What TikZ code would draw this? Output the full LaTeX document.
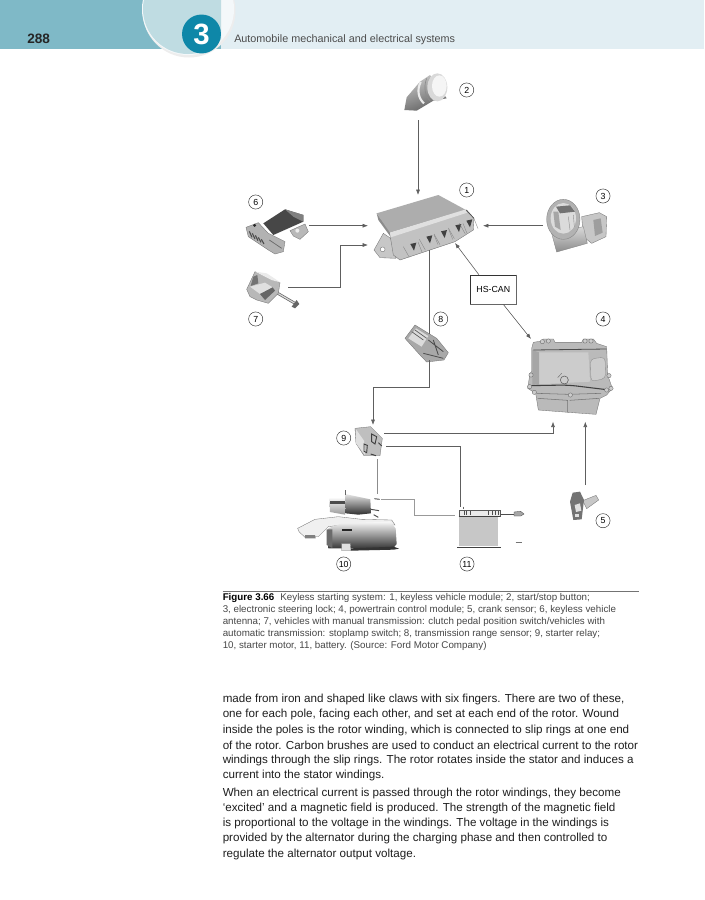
\documentclass[tikz,border=0pt]{standalone}
\usepackage{fontspec}
\setmainfont{Liberation Sans}
\usepackage{tikz}
\usetikzlibrary{positioning,arrows.meta,fit,backgrounds}
\definecolor{bandDark}{HTML}{7FB9C7}
\definecolor{bandLight}{HTML}{E2EEF3}
\definecolor{ovalFill}{HTML}{BFDCE2}
\definecolor{badgeTeal}{HTML}{0E87A8}
\definecolor{wireGrey}{HTML}{5E5E5E}
\tikzset{
  wire/.style={draw=wireGrey,line width=0.45pt},
  wireA/.style={wire,-{Latex[length=4pt,width=3pt]}},
  numring/.style={draw=black!80,circle,line width=0.35pt,minimum size=10.6pt,inner sep=0pt,font=\fontsize{6.6}{7}\selectfont},
  capline/.style={anchor=west,inner sep=0pt,text=black!72,font=\fontsize{7.33}{8}\selectfont},
  bodyline/.style={anchor=west,inner sep=0pt,text=black!88,font=\fontsize{8.72}{9}\selectfont},
  inA/.style={shift={(230,70)},x=0.25pt,y=-0.25pt},
  inB/.style={shift={(280,310)},x=0.25pt,y=-0.25pt},
  inMod/.style={shift={(370,190)},x=0.25pt,y=-0.25pt},
  inSw/.style={shift={(240,200)},x=0.25pt,y=-0.25pt},
  inPcm/.style={shift={(525,335)},x=0.25pt,y=-0.25pt},
  inSt/.style={shift={(295,480)},x=0.25pt,y=-0.25pt},
  part/.style={draw=black!55,line width=0.25pt},
}
\begin{document}
\begin{tikzpicture}[x=0.75pt,y=-0.75pt,>=Latex]
  \useasboundingbox[fill=white] (0,0) rectangle (704,900);
  % page header
  \fill[bandDark] (0,0) rectangle (221,48.5);
  \fill[bandLight] (221,0) rectangle (704,48.5);
  \begin{scope}
    \clip (0,0) rectangle (704,60);
    \fill[black!7] (189,11) ellipse (46.5 and 46.5);
    \fill[white!60!bandLight] (188,9) ellipse (46 and 46);
    \clip (0,0) rectangle (221,60);
    \fill[ovalFill] (188,9) ellipse (45 and 45);
  \end{scope}
  \node[circle,fill=badgeTeal,minimum size=29.2pt,inner sep=0pt,text=white,font=\fontsize{22}{22}\selectfont\bfseries] (badge) at (201.5,34) {3};
  \node[anchor=west,inner sep=0pt,font=\fontsize{10.2}{11}\selectfont\bfseries,text=black!85] (pageno) at (27,39) {288};
  \node[anchor=west,inner sep=0pt,font=\fontsize{8.1}{9}\selectfont,text=black!70] (runhead) at (234,40) {Automobile mechanical and electrical systems};

  % 2 start/stop button
  \begin{scope}[inA]
    \shade[top color=black!22,bottom color=black!62,shading angle=20] (523,120) -- (530,82) -- (570,35) -- (600,15) -- (650,85) -- (610,92) -- (560,122) -- cycle;
    \draw[black!8,line width=1.6pt] (572,36) .. controls (560,60) and (565,85) .. (582,100);
    \draw[black!45,line width=0.5pt] (590,25) .. controls (580,50) and (585,80) .. (600,92);
    \fill[black!15] (622,52) ellipse (30 and 42);
    \fill[black!4] (628,48) ellipse (22 and 32);
  \end{scope}

  % 1 keyless vehicle module
  \begin{scope}[inMod]
    \fill[black!45] (20,70) -- (25,90) -- (60,138) -- (60,122) -- cycle;
    \fill[black!22,part] (12,180) -- (40,130) -- (62,145) -- (78,205) -- (30,203) -- cycle;
    \fill[white,draw=black!60,line width=0.25pt] (38,178) circle (1.8pt);
    \fill[black!24,draw=black!55,line width=0.25pt] (60,135) -- (290,60) -- (312,85) -- (310,120) -- (255,155) -- (90,210) -- (70,195) -- cycle;
    \fill[black!32] (20,70) -- (205,15) -- (288,60) -- (60,128) -- cycle;
    \fill[black!12] (60,128) -- (288,58) -- (292,68) -- (62,142) -- cycle;
    \foreach \a/\b in {130/172,178/150,222/134,265/116,298/102} {
      \fill[black!75] (\a-9,\b-10) -- (\a+9,\b-14) -- (\a+2,\b+10) -- cycle;
      \draw[black!50,line width=0.25pt] (\a-30,\b-2) -- (\a-12,\b+30);
      \draw[black!50,line width=0.25pt] (\a+14,\b-16) -- (\a+26,\b+14);
    }
    \draw[black!70,line width=0.5pt] (288,60) -- (312,85);
  \end{scope}

  % 6 keyless vehicle antenna
  \begin{scope}[inSw]
    \fill[black!30,part] (18,82) -- (55,68) -- (85,100) -- (135,125) -- (130,155) -- (105,162) -- (85,150) -- (25,110) -- cycle;
    \fill[black!28,part] (150,92) -- (195,72) -- (205,95) -- (180,118) -- (160,108) -- cycle;
    \fill[black!8] (172,92) circle (1.5pt);
    \fill[black!72] (70,70) -- (135,28) -- (190,45) -- (190,65) -- (100,105) -- cycle;
    \fill[black!50] (135,28) -- (190,45) -- (190,65) -- (160,50) -- cycle;
    \fill[black!85] (44,76) circle (1.2pt);
    \foreach \k in {0,...,4} {
      \draw[black!70,line width=0.8pt] (28+\k*9,94+\k*6) -- (36+\k*9,112+\k*5);
    }
    \draw[black!60,line width=0.5pt] (88,120) -- (125,145);
  \end{scope}

  % 7 clutch pedal / stoplamp switch
  \begin{scope}[inSw]
    \draw[black!60,line width=2pt] (105,275) -- (165,310);
    \draw[black!15,line width=0.9pt] (105,275) -- (165,310);
    \fill[black!60] (155,320) -- (170,300) -- (178,312) -- (165,325) -- cycle;
    \fill[black!28,part] (20,268) -- (45,215) -- (120,248) -- (115,280) -- (85,310) -- (50,300) -- (30,290) -- cycle;
    \fill[black!55] (40,230) -- (52,225) -- (55,250) -- (32,258) -- cycle;
    \fill[black!12] (30,260) -- (75,248) -- (98,262) -- (60,282) -- cycle;
    \fill[black!8] (45,215) -- (80,220) -- (122,248) -- (95,240) -- cycle;
    \fill[black!60] (60,282) -- (98,262) -- (105,272) -- (75,300) -- cycle;
  \end{scope}

  % 3 electronic steering lock
  \begin{scope}[inA]
    \fill[black!22,part] (1055,440) -- (1108,428) -- (1130,440) -- (1128,500) -- (1085,520) -- (1060,500) -- cycle;
    \fill[black!38] (1090,450) -- (1112,445) -- (1118,488) -- (1095,498) -- cycle;
    \shade[top color=black!15,bottom color=black!45,draw=black!50,line width=0.25pt] (965,490) -- (1060,470) -- (1072,520) -- (980,546) -- cycle;
    \fill[black!30,draw=black!50,line width=0.25pt] (1000,448) ellipse (50 and 60);
    \fill[black!14] (1000,445) ellipse (38 and 46);
    \fill[black!55] (978,410) -- (1020,406) -- (1035,425) -- (990,430) -- cycle;
    \fill[black!35] (970,425) -- (985,425) -- (992,480) -- (975,470) -- cycle;
    \draw[black!45,line width=0.3pt] (1015,440) -- (1020,480) (1030,435) -- (1033,470);
  \end{scope}

  % 8 transmission range sensor
  \begin{scope}[inB]
    \fill[black!34,part] (375,85) -- (405,45) -- (470,85) -- (505,128) -- (492,150) -- (440,156) -- (420,135) -- cycle;
    \fill[black!14] (385,85) -- (408,55) -- (445,78) -- (425,110) -- cycle;
    \draw[black!65,line width=0.5pt] (395,65) -- (430,90) (405,60) -- (440,85);
    \draw[black!70,line width=0.6pt] (445,90) -- (490,125) (460,90) -- (475,135) (430,130) -- (490,145);
  \end{scope}

  % 4 powertrain control module
  \begin{scope}[inPcm]
    \fill[black!27,part] (20,40) -- (25,22) -- (50,18) -- (55,12) -- (85,12) -- (90,22) -- (170,22) -- (175,12) -- (205,12) -- (215,25) -- (245,35) -- (248,120) -- (262,160) -- (245,180) -- (225,190) -- (213,238) -- (130,232) -- (40,225) -- (32,175) -- (8,160) -- (15,115) -- (20,110) -- cycle;
    \fill[black!20] (42,52) -- (190,52) -- (195,140) -- (42,148) -- cycle;
    \fill[black!20,draw=black!45,line width=0.25pt,rounded corners=3pt] (196,72) -- (240,66) -- (242,130) -- (198,140) -- cycle;
    \fill[black!35] (22,45) -- (42,52) -- (42,148) -- (22,150) -- cycle;
    \draw[black!70,line width=0.6pt] (25,45) -- (245,42);
    \draw[black!75,line width=0.8pt,rounded corners=6pt] (10,152) -- (130,150) -- (245,164);
    \draw[black!55,line width=0.4pt] (35,175) -- (130,178) -- (228,175);
    \draw[black!55,line width=0.4pt] (38,190) -- (128,196) -- (128,232) (134,196) -- (222,190);
    \draw[black!65,line width=0.4pt] (118,135) circle (3pt);
    \draw[black!55,line width=0.35pt] (98,128) -- (110,115);
    \foreach \a/\b in {52/20,70/18,180/18,198/18,18/120,14/155,28/172,136/180,245/165,258/160,252/122} {
      \draw[black!60,fill=black!20,line width=0.25pt] (\a,\b) circle (1.6pt);
    }
  \end{scope}

  % 5 crank sensor
  \begin{scope}[inB]
    \fill[black!22,part] (908,572) -- (948,556) -- (956,570) -- (920,596) -- cycle;
    \fill[black!55] (878,548) -- (900,545) -- (912,570) -- (905,628) -- (880,630) -- (870,575) -- cycle;
    \fill[black!12] (884,585) -- (900,580) -- (904,602) -- (888,606) -- cycle;
    \fill[black!12] (885,612) -- (897,612) -- (897,622) -- (885,622) -- cycle;
  \end{scope}

  % 9 starter relay
  \begin{scope}[inB]
    \fill[black!25,part] (225,355) -- (272,350) -- (307,385) -- (300,437) -- (252,437) -- (228,400) -- cycle;
    \fill[black!12] (228,358) -- (252,392) -- (255,435) -- (228,400) -- cycle;
    \draw[black!75,line width=0.7pt] (275,372) -- (290,380) -- (285,402) -- (275,395) -- cycle;
    \draw[black!75,line width=0.7pt] (252,402) -- (262,406) -- (260,428) -- (252,424) -- cycle;
    \draw[black!75,line width=0.7pt] (295,398) -- (305,408);
    \draw[black!75,line width=0.7pt] (272,432) -- (288,437);
  \end{scope}

  % 10 starter motor
  \begin{scope}[inSt]
    \fill[black!6,part] (8,145) -- (60,118) -- (130,110) -- (200,118) -- (290,120) -- (300,135) -- (140,135) -- (100,140) -- (70,170) -- (30,172) -- (12,155) -- cycle;
    \fill[black!50] (30,165) -- (60,165) -- (62,175) -- (30,175) -- cycle;
    \shade[top color=black!4,bottom color=black!40] (103,55) -- (150,55) -- (150,104) -- (105,96) -- cycle;
    \fill[black!70] (104,64) -- (150,64) -- (150,72) -- (104,72) -- cycle;
    \shade[top color=black!10,bottom color=black!82] (150,42) -- (226,58) -- (228,100) -- (190,104) -- (152,100) -- cycle;
    \draw[black!60,line width=0.3pt] (150,30) -- (150,45);
    \shade[top color=black!3,bottom color=black!78] (100,145) -- (140,130) -- (285,125) -- (302,145) -- (305,192) -- (295,204) -- (100,205) -- cycle;
    \fill[black!58] (95,148) -- (112,148) -- (112,204) -- (95,195) -- cycle;
    \fill[black!85] (140,148) -- (172,148) -- (172,153) -- (140,153) -- cycle;
    \fill[black!12,part] (140,190) -- (166,190) -- (168,212) -- (140,212) -- cycle;
    \fill[black!80] (168,205) -- (296,200) -- (312,206) -- (296,209) -- (168,212) -- cycle;
    \draw[black!70,line width=0.7pt] (238,56) -- (254,58) (228,88) -- (252,92) (236,104) -- (250,112);
  \end{scope}

  % 11 battery
  \begin{scope}[inB]
    \fill[black!22] (538,622) -- (655,622) -- (655,708) -- (538,708) -- cycle;
    \fill[black!8,draw=black!65,line width=0.3pt] (538,600) -- (662,600) -- (662,618) -- (538,618) -- cycle;
    \draw[black!75,line width=0.5pt] (536,620) -- (660,620) (532,712) -- (662,712);
    \foreach \a in {552,560,570,625,637,645,655} {
      \draw[black!70,line width=0.35pt] (\a,602) -- (\a,616);
    }
    \draw[black!70,line width=0.35pt] (662,612) -- (702,612);
    \fill[black!35,draw=black!70,line width=0.25pt] (702,606) -- (722,604) -- (732,612) -- (722,618) -- (702,618) -- cycle;
    \draw[black!55,line width=0.6pt] (707,698) -- (725,698);
    \draw[black!60,line width=0.3pt] (550,590) -- (550,598);
  \end{scope}

  % wire ends
  \coordinate (startB) at (418,120);
  \coordinate (modT) at (418,195);
  \coordinate (antR) at (309,225.7);
  \coordinate (modL) at (368,225.7);
  \coordinate (swR) at (288,287);
  \coordinate (modLb) at (368,245);
  \coordinate (lockL) at (543,225.7);
  \coordinate (modR) at (483,225.7);
  \coordinate (modF) at (455,243);
  \coordinate (modB) at (429.3,250);
  \coordinate (sensT) at (429.3,334);
  \coordinate (sensB) at (429.3,360);
  \coordinate (relT) at (373,425);
  \coordinate (relR) at (384,433.3);
  \coordinate (pcmA) at (553,421.7);
  \coordinate (crankT) at (585.3,485);
  \coordinate (pcmB) at (585.3,421.7);
  \coordinate (pcmT) at (531,339);
  \coordinate (relRb) at (386,446);
  \coordinate (batT) at (460.3,507);
  \coordinate (relB) at (377.7,459);
  \coordinate (stT) at (377.7,494);
  \coordinate (stR) at (381,499);
  \coordinate (batL) at (455,515);

  \node[draw=black!80,line width=0.35pt,fill=white,minimum width=34pt,minimum height=21.8pt,inner sep=0pt,font=\fontsize{6.6}{7}\selectfont] (hscan) at (493.3,289.5) {HS-CAN};
  \draw[black!60,line width=0.6pt] (hscan.north east) -- (hscan.south east) -- (hscan.south west);

  \draw[wireA] (startB) -- (modT);
  \draw[wireA] (antR) -- (modL);
  \draw[wireA] (swR) -| (340,245) -- (modLb);
  \draw[wireA] (lockL) -- (modR);
  \draw[wireA] (hscan.north west) ++(8.5,0) -- (modF);
  \draw[wireA] (hscan.south east) ++(-13,0) -- (pcmT);
  \draw[wire] (modB) -- (sensT);
  \draw[wireA] (sensB) |- (373,387) -- (relT);
  \draw[wireA] (relR) -| (pcmA);
  \draw[wireA] (crankT) -- (pcmB);
  \draw[wire] (relRb) -| (batT);
  \draw[wire,draw=black!45,line width=0.7pt] (relB) -- (stT);
  \draw[wire,draw=black!40,line width=0.7pt] (stR) -| (414,515) -- (batL);

  % item numbers
  \foreach \n/\x/\y in {1/466.7/190,2/466.7/90,3/603/196,4/603/319,5/603/520.7,6/255.7/202,7/255.7/319,8/440.7/319,9/343.7/438,10/343.7/564,11/467/564} {
    \node[numring] (num\n) at (\x,\y) {\n};
  }

  % caption
  \draw[black!55,line width=0.5pt] (222.5,591.5) coordinate (capL) -- (639,591.5) coordinate (capR);
  \node[capline] (capa) at (222.5,597.5) {\textbf{\textcolor{black}{Figure 3.66}}\hspace{2.5pt} Keyless starting system: 1, keyless vehicle module; 2, start/stop button;};
  \node[capline] (capb) at (222.5,610) {3, electronic steering lock; 4, powertrain control module; 5, crank sensor; 6, keyless vehicle};
  \node[capline] (capc) at (222.5,622) {antenna; 7, vehicles with manual transmission: clutch pedal position switch/vehicles with};
  \node[capline] (capd) at (222.5,634) {automatic transmission: stoplamp switch; 8, transmission range sensor; 9, starter relay;};
  \node[capline] (cape) at (222.5,645.5) {10, starter motor, 11, battery. (Source: Ford Motor Company)};

  % body text
  \node[bodyline] (bda) at (222.5,699.5) {made from iron and shaped like claws with six fingers. There are two of these,};
  \node[bodyline] (bdb) at (222.5,714.7) {one for each pole, facing each other, and set at each end of the rotor. Wound};
  \node[bodyline] (bdc) at (222.5,730) {inside the poles is the rotor winding, which is connected to slip rings at one end};
  \node[bodyline] (bdd) at (222.5,745.2) {of the rotor. Carbon brushes are used to conduct an electrical current to the rotor};
  \node[bodyline] (bde) at (222.5,760.4) {windings through the slip rings. The rotor rotates inside the stator and induces a};
  \node[bodyline] (bdf) at (222.5,775.6) {current into the stator windings.};
  \node[bodyline] (bdg) at (222.5,793) {When an electrical current is passed through the rotor windings, they become};
  \node[bodyline] (bdh) at (222.5,808.3) {‘excited’ and a magnetic field is produced. The strength of the magnetic field};
  \node[bodyline] (bdi) at (222.5,823.5) {is proportional to the voltage in the windings. The voltage in the windings is};
  \node[bodyline] (bdj) at (222.5,838.7) {provided by the alternator during the charging phase and then controlled to};
  \node[bodyline] (bdk) at (222.5,854) {regulate the alternator output voltage.};
\end{tikzpicture}
\end{document}
